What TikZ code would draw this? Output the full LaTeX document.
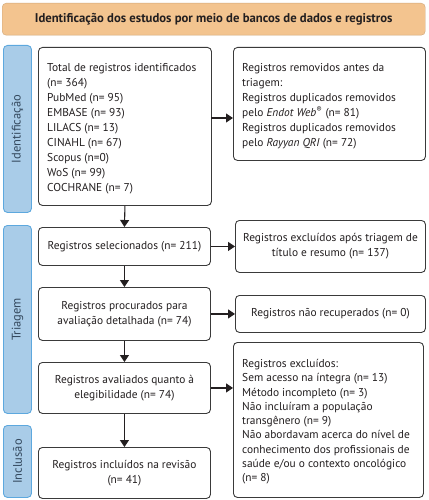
\documentclass[tikz,border=0pt]{standalone}
\usepackage{fontspec}
\setmainfont{PT Sans}
\usetikzlibrary{arrows.meta}
\definecolor{txt}{HTML}{231F20}
\definecolor{bord}{HTML}{3A3A3A}
\definecolor{banner}{HTML}{F3C48F}
\definecolor{barfill}{HTML}{A9CCE8}
\definecolor{barbord}{HTML}{5DA8DE}
\definecolor{bartxt}{HTML}{34495E}
\tikzset{
  box/.style={draw=bord, line width=0.9pt, rounded corners=4pt, fill=white, text=txt,
    inner sep=0pt, anchor=north west},
  btxt/.style={text=txt, font=\fontsize{11.4}{15}\selectfont, inner sep=0pt},
  sidebar/.style={draw=barbord, line width=0.9pt, fill=barfill, rounded corners=4pt,
    anchor=north west, minimum width=28pt, inner sep=0pt},
  sidetext/.style={text=bartxt, font=\fontsize{12.5}{14}\selectfont, rotate=90},
  arr/.style={draw=txt, line width=1.1pt, -{Triangle[length=7pt,width=9pt]}},
}
\begin{document}
\begin{tikzpicture}[x=1pt,y=-1pt]
\useasboundingbox (0,0) rectangle (428,500);
\node[draw=banner!85!black, fill=banner, rounded corners=4pt, anchor=north west,
  minimum width=423pt, minimum height=32pt, inner sep=0pt, text=txt,
  font=\bfseries\fontsize{12.7}{14}\selectfont] (title) at (2,3)
  {Identificação dos estudos por meio de bancos de dados e registros};
% side bars
\node[sidebar, minimum height=167pt] (s1) at (3,45) {};
\node[sidetext] (s1t) at (s1.center) {Identificação};
\node[sidebar, minimum height=188pt] (s2) at (3,225) {};
\node[sidetext] (s2t) at (s2.center) {Triagem};
\node[sidebar, minimum height=72pt] (s3) at (3,425) {};
\node[sidetext] (s3t) at (s3.center) {Inclusão};
% left column
\node[box, minimum width=173pt, minimum height=158pt] (b1) at (38,47) {};
\node[btxt, align=left, anchor=north west] (t1) at (47,63)
 {Total de registros identificados\\(n= 364)\\PubMed (n= 95)\\EMBASE (n= 93)\\LILACS (n= 13)\\CINAHL (n= 67)\\Scopus (n=0)\\WoS (n= 99)\\COCHRANE (n= 7)};
\node[box, minimum width=172pt, minimum height=38pt] (b2) at (38,227) {};
\node[btxt] (t2) at (b2.center) {Registros selecionados (n= 211)};
\node[box, minimum width=172pt, minimum height=53pt] (b3) at (38,287) {};
\node[btxt, align=center] (t3) at (b3.center) {Registros procurados para\\avaliação detalhada (n= 74)};
\node[box, minimum width=172pt, minimum height=51pt] (b4) at (38,362) {};
\node[btxt, align=center] (t4) at (b4.center) {Registros avaliados quanto à\\elegibilidade (n= 74)};
\node[box, minimum width=172pt, minimum height=51pt] (b5) at (38,447) {};
\node[btxt, align=center] (t5) at (b5.center) {Registros incluídos na revisão\\(n= 41)};
% right column
\node[box, minimum width=192pt, minimum height=113pt] (r1) at (233,47) {};
\node[btxt, align=left, anchor=north west] (u1) at (242,63)
 {Registros removidos antes da\\triagem:\\Registros duplicados removidos\\pelo \textit{Endot Web}\textsuperscript{®} (n= 81)\\Registros duplicados removidos\\pelo \textit{Rayyan QRI} (n= 72)};
\node[box, minimum width=190pt, minimum height=52pt] (r2) at (235,220) {};
\node[btxt, align=center] (u2) at (r2.center) {Registros excluídos após triagem de\\título e resumo (n= 137)};
\node[box, minimum width=190pt, minimum height=37pt] (r3) at (235,295) {};
\node[btxt] (u3) at (r3.center) {Registros não recuperados (n= 0)};
\node[box, minimum width=190pt, minimum height=155pt] (r4) at (233,342) {};
\node[btxt, font=\fontsize{11.4}{14.3}\selectfont, align=left, anchor=north west] (u4) at (242,359)
 {Registros excluídos:\\Sem acesso na íntegra (n= 13)\\Método incompleto (n= 3)\\Não incluíram a população\\transgênero (n= 9)\\Não abordavam acerca do nível de\\conhecimento dos profissionais de\\saúde e/ou o contexto oncológico\\(n= 8)};
% arrows
\coordinate (a1) at (211,118);
\draw[arr] (a1) -- (a1 -| r1.west);
\draw[arr] (b1.south) -- (b2.north);
\draw[arr] (b2.east) -- (r2.west);
\draw[arr] (b2.south) -- (b3.north);
\draw[arr] (b3.east) -- (r3.west);
\draw[arr] (b3.south) -- (b4.north);
\draw[arr] (b4.east) -- (b4.east -| r4.west);
\draw[arr] (b4.south) -- (b5.north);
\end{tikzpicture}
\end{document}
